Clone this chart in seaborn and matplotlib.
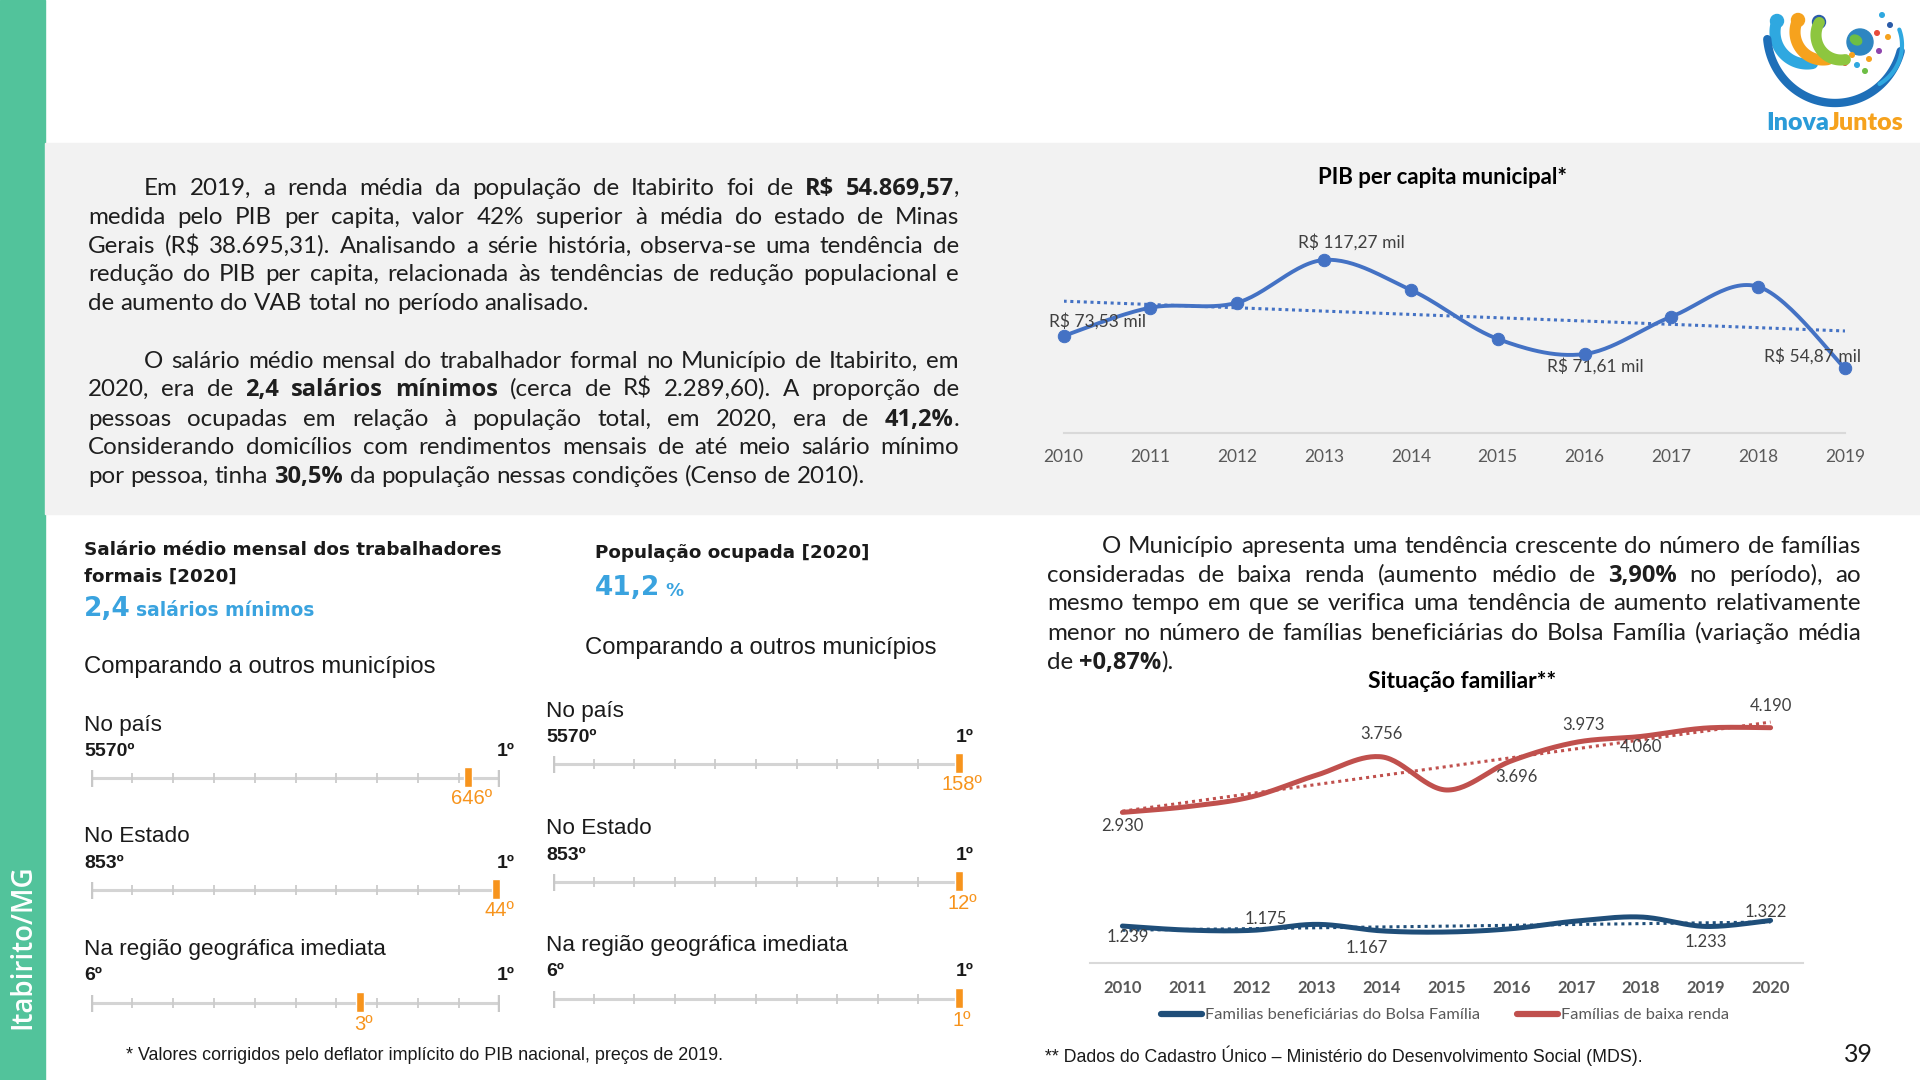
import numpy as np
import pandas as pd
import matplotlib
matplotlib.use("Agg")
import matplotlib.pyplot as plt
import seaborn as sns
from matplotlib import font_manager
from matplotlib.patches import Rectangle, Circle, Ellipse
from matplotlib.lines import Line2D

anos_pib = [2010, 2011, 2012, 2013, 2014, 2015, 2016, 2017, 2018, 2019]
pib_mil = [73.53, 89.8, 92.7, 117.27, 100.0, 71.8, 63.1, 84.6, 101.9, 54.87]
pib_rotulos = {2010: "R$ 73,53 mil", 2013: "R$ 117,27 mil", 2016: "R$ 71,61 mil", 2019: "R$ 54,87 mil"}

anos_fam = [2010, 2011, 2012, 2013, 2014, 2015, 2016, 2017, 2018, 2019, 2020]
baixa_renda = [2930, 3015, 3163, 3486, 3756, 3263, 3696, 3973, 4060, 4185, 4190]
bolsa_familia = [1239, 1179, 1175, 1264, 1167, 1150, 1199, 1313, 1373, 1233, 1322]
rot_baixa = [2010, 2014, 2016, 2017, 2018, 2020]
rot_bolsa = [2010, 2012, 2014, 2019, 2020]

niveis = ["No país", "No Estado", "Na região geográfica imediata"]
total_municipios = [5570, 853, 6]
rank_salario = [646, 44, 3]
escala_salario = [92.2, 99.0, 65.8]   # posição do marcador na régua (%)
rank_pop = [158, 12, 1]
escala_pop = [100, 100, 100]

W, H = 1920, 1080
AZUL = "#4472C4"
AZUL_ESC = "#1F4E79"
VERMELHO = "#C0504D"
LARANJA = "#F7941D"
AZUL_IBGE = "#3AA3DF"
VERDE = "#52C39B"
CINZA_TXT = "#595959"

sns.set_theme(style="white")
nomes = {f.name for f in font_manager.fontManager.ttflist}
NARROW = "Liberation Sans Narrow" if "Liberation Sans Narrow" in nomes else "Liberation Sans"
plt.rcParams["font.family"] = ["Lato", "DejaVu Sans"]

fig = plt.figure(figsize=(19.2, 10.8), dpi=100)
fig.patch.set_facecolor("white")
renderer = fig.canvas.get_renderer()


def add_ax(x0, y0, x1, y1):
    a = fig.add_axes([x0 / W, 1 - y1 / H, (x1 - x0) / W, (y1 - y0) / H])
    a.patch.set_alpha(0)
    return a


def txt(x, y, s, **kw):
    kw.setdefault("va", "center")
    return fig.text(x / W, 1 - y / H, s, **kw)


def linha(x0, x1, y, s, size=17.4, justify=True, color="#1E1E1E"):
    # texto justificado, *...* marca negrito
    palavras, bold = [], False
    for w in s.split(" "):
        pecas = []
        for i, p in enumerate(w.split("*")):
            if i > 0:
                bold = not bold
            if p:
                pecas.append((p, bold))
        palavras.append(pecas)
    arts, larg = [], []
    for pecas in palavras:
        lst, tot = [], 0
        for p, b in pecas:
            if b:
                t = fig.text(0, 1 - y / H, p, fontsize=size - 0.4, family="Open Sans", color=color,
                             fontweight="bold", va="baseline")
            else:
                t = fig.text(0, 1 - y / H, p, fontsize=size, family="Lato", color=color, va="baseline")
            wpx = t.get_window_extent(renderer).width
            lst.append((t, wpx))
            tot += wpx
        arts.append(lst)
        larg.append(tot)
    if justify and len(palavras) > 1:
        gap = (x1 - x0 - sum(larg)) / (len(palavras) - 1)
    else:
        gap = size * 100 / 72 * 0.26
    x = x0
    for lst in arts:
        for t, wpx in lst:
            t.set_x(x / W)
            x += wpx
        x += gap


def suaviza(x, y, n=30):
    P = np.column_stack([x, y]).astype(float)
    E = np.vstack([P[0], P, P[-1]])
    out = []
    for i in range(len(P) - 1):
        p0, p1, p2, p3 = E[i], E[i + 1], E[i + 2], E[i + 3]
        c1 = p1 + (p2 - p0) / 6
        c2 = p2 - (p3 - p1) / 6
        t = np.linspace(0, 1, n, endpoint=(i == len(P) - 2))[:, None]
        out.append((1 - t) ** 3 * p1 + 3 * (1 - t) ** 2 * t * c1 + 3 * (1 - t) * t ** 2 * c2 + t ** 3 * p2)
    S = np.vstack(out)
    return S[:, 0], S[:, 1]


# ---------------- fundo ----------------
fig.patches.append(Rectangle((0, 0), 45 / W, 1, transform=fig.transFigure, color=VERDE, zorder=-2))
fig.patches.append(Rectangle((45 / W, 1 - 514 / H), 1 - 45 / W, (514 - 143) / H,
                             transform=fig.transFigure, color="#F2F2F2", zorder=-2))
txt(23, 947, "Itabirito/MG", rotation=90, color="white", fontsize=20, family="Open Sans",
    fontweight="semibold", ha="center")

# ---------------- textos ----------------
p1 = ["Em 2019, a renda média da população de Itabirito foi de *R$ 54.869,57*,",
      "medida pelo PIB per capita, valor 42% superior à média do estado de Minas",
      "Gerais (R$ 38.695,31). Analisando a série história, observa-se uma tendência de",
      "redução do PIB per capita, relacionada às tendências de redução populacional e",
      "de aumento do VAB total no período analisado."]
p2 = ["O salário médio mensal do trabalhador formal no Município de Itabirito, em",
      "2020, era de *2,4 salários mínimos* (cerca de R$ 2.289,60). A proporção de",
      "pessoas ocupadas em relação à população total, em 2020, era de *41,2%*.",
      "Considerando domicílios com rendimentos mensais de até meio salário mínimo",
      "por pessoa, tinha *30,5%* da população nessas condições (Censo de 2010)."]
p3 = ["O Município apresenta uma tendência crescente do número de famílias",
      "consideradas de baixa renda (aumento médio de *3,90%* no período), ao",
      "mesmo tempo em que se verifica uma tendência de aumento relativamente",
      "menor no número de famílias beneficiárias do Bolsa Família (variação média",
      "de *+0,87%*)."]

for par, ys, x0, x1, ind in [(p1, [187, 216, 245, 273, 302], 88, 959, 144),
                             (p2, [360, 388, 418, 446, 475], 88, 959, 144),
                             (p3, [545, 574, 602, 632, 661], 1047, 1861, 1102)]:
    for i, (s, y) in enumerate(zip(par, ys)):
        linha(ind if i == 0 else x0, x1, y + 8, s, justify=(i < len(par) - 1))

# ---------------- PIB per capita ----------------
txt(1442, 178, "PIB per capita municipal*", fontsize=16, fontweight="bold", ha="center", color="black")
ax = add_ax(1063.6, 200, 1845, 432.7)
xs, ys = suaviza(anos_pib, pib_mil)
sns.lineplot(x=xs, y=ys, ax=ax, sort=False, estimator=None, color=AZUL, lw=2.8, clip_on=False)
sns.regplot(x=anos_pib, y=pib_mil, ax=ax, scatter=False, ci=None, truncate=True,
            line_kws=dict(ls=(0, (1, 1.2)), lw=2.2, color=AZUL))
sns.scatterplot(x=anos_pib, y=pib_mil, ax=ax, s=80, color=AZUL, edgecolor=AZUL, zorder=5, clip_on=False)
off_pib = {2010: (34, 15), 2013: (27, 18), 2016: (11, -12), 2019: (-33, 12)}
for ano, rot in pib_rotulos.items():
    v = pib_mil[anos_pib.index(ano)]
    ax.annotate(rot, (ano, v), xytext=off_pib[ano], textcoords="offset pixels",
                ha="center", va="center", fontsize=12.5, color="#404040")
ax.set_xlim(2010, 2019)
ax.set_ylim(17.8, 151.8)
ax.set_xticks(anos_pib)
ax.set_xticklabels([str(a) for a in anos_pib])
ax.tick_params(axis="x", length=0, pad=12, labelsize=12.5, labelcolor=CINZA_TXT)
ax.set_yticks([])
ax.set_xlabel("")
ax.set_ylabel("")
for s in ["top", "left", "right"]:
    ax.spines[s].set_visible(False)
ax.spines["bottom"].set_color("#D9D9D9")
ax.spines["bottom"].set_linewidth(1.5)

# ---------------- Situação familiar ----------------
txt(1462, 681, "Situação familiar**", fontsize=16.5, fontweight="bold", ha="center", color="black")
ax2 = add_ax(1090, 700, 1803, 963)
for serie, cor in [(bolsa_familia, AZUL_ESC), (baixa_renda, VERMELHO)]:
    xs, ys = suaviza(anos_fam, serie)
    sns.lineplot(x=xs, y=ys, ax=ax2, sort=False, estimator=None, color=cor, lw=3.6, clip_on=False)
    sns.regplot(x=anos_fam, y=serie, ax=ax2, scatter=False, ci=None, truncate=True,
                line_kws=dict(ls=(0, (1, 1.3)), lw=2.2, color=cor))
off_baixa = {2010: (0, -14), 2014: (0, 23), 2016: (5, -16), 2017: (7, 17), 2018: (0, -11), 2020: (0, 22)}
off_bolsa = {2010: (5, -11), 2012: (14, 11), 2014: (-15, -17), 2019: (0, -16), 2020: (-5, 8)}
for serie, rots, offs in [(baixa_renda, rot_baixa, off_baixa), (bolsa_familia, rot_bolsa, off_bolsa)]:
    for ano in rots:
        v = serie[anos_fam.index(ano)]
        ax2.annotate(f"{v:,}".replace(",", "."), (ano, v), xytext=offs[ano], textcoords="offset pixels",
                     ha="center", va="center", fontsize=12, color="#404040")
ax2.set_xlim(2009.5, 2020.5)
ax2.set_ylim(689, 4602)
ax2.set_xticks(anos_fam)
ax2.set_xticklabels([str(a) for a in anos_fam], fontweight="bold")
ax2.tick_params(axis="x", length=0, pad=12, labelsize=12, labelcolor=CINZA_TXT)
ax2.set_yticks([])
ax2.set_xlabel("")
ax2.set_ylabel("")
for s in ["top", "left", "right"]:
    ax2.spines[s].set_visible(False)
ax2.spines["bottom"].set_color("#D9D9D9")
ax2.spines["bottom"].set_linewidth(1.5)
hand = [Line2D([], [], color=AZUL_ESC, lw=4.5), Line2D([], [], color=VERMELHO, lw=4.5)]
ax2.legend(hand, ["Familias beneficiárias do Bolsa Família", "Famílias de baixa renda"],
           loc="center", bbox_to_anchor=(1445 / W, 1 - 1015 / H), bbox_transform=fig.transFigure,
           ncol=2, frameon=False, fontsize=11.8, labelcolor=CINZA_TXT, handlelength=2.5,
           handletextpad=0.2, columnspacing=2.2)

# ---------------- réguas IBGE ----------------
def regua(x0, x1, yt, nivel, total, rank, pos):
    txt(x0 - 7, yt - 53, nivel, fontsize=16.2, family="Liberation Sans", color="#1A1A1A")
    txt(x0 - 7, yt - 27, f"{total}º", fontsize=14, family=NARROW, fontweight="bold", color="#1A1A1A")
    txt(x1 + 6, yt - 27, "1º", fontsize=14, family=NARROW, fontweight="bold", color="#1A1A1A", ha="center")
    a = add_ax(x0, yt - 15, x1, yt + 15)
    a.set_xlim(0, 100)
    a.set_ylim(15, -15)
    a.axis("off")
    a.hlines(0, 0, 100, color="#D4D4D4", lw=2.2)
    a.vlines(np.arange(10, 100, 10), -5, 5, color="#CCCCCC", lw=1.3)
    a.vlines([0, 100], -8.5, 8.5, color="#C8C8C8", lw=3.2)
    a.bar([pos], [20], bottom=-11, width=8.5 / (x1 - x0) * 100, color=LARANJA, clip_on=False, zorder=3)
    a.text(pos + 0.8, 21, f"{rank}º", ha="center", va="center", fontsize=14.5, family=NARROW,
           color=LARANJA, clip_on=False)


txt(84, 550, "Salário médio mensal dos trabalhadores", fontsize=13.2, fontweight="bold",
    family="DejaVu Sans", color="#1A1A1A")
txt(84, 577, "formais [2020]", fontsize=13.2, fontweight="bold", family="DejaVu Sans", color="#1A1A1A")
txt(84, 609, "2,4", fontsize=19, fontweight="bold", family="DejaVu Sans", color=AZUL_IBGE)
txt(136, 611, "salários mínimos", fontsize=13.5, fontweight="bold", family="DejaVu Sans", color=AZUL_IBGE)
txt(84, 667, "Comparando a outros municípios", fontsize=17.2, family="Liberation Sans", color="#1A1A1A")

txt(595, 553, "População ocupada [2020]", fontsize=13.2, fontweight="bold", family="DejaVu Sans", color="#1A1A1A")
txt(595, 588, "41,2", fontsize=19, fontweight="bold", family="DejaVu Sans", color=AZUL_IBGE)
txt(665, 591, "%", fontsize=13, fontweight="bold", family="DejaVu Sans", color=AZUL_IBGE)
txt(585, 648, "Comparando a outros municípios", fontsize=17.2, family="Liberation Sans", color="#1A1A1A")

for i, yt in enumerate([778, 890, 1003]):
    regua(91, 500, yt, niveis[i], total_municipios[i], rank_salario[i], escala_salario[i])
for i, yt in enumerate([764, 882, 999]):
    regua(553, 959, yt, niveis[i], total_municipios[i], rank_pop[i], escala_pop[i])

# ---------------- rodapé ----------------
txt(126, 1056, "* Valores corrigidos pelo deflator implícito do PIB nacional, preços de 2019.",
    fontsize=12.9, family="Liberation Sans", color="#1A1A1A")
txt(1045, 1056, "** Dados do Cadastro Único – Ministério do Desenvolvimento Social (MDS).",
    fontsize=12.8, family="Liberation Sans", color="#1A1A1A")
txt(1858, 1055, "39", fontsize=18, family="Lato", color="#1A1A1A", ha="center")

# ---------------- logo ----------------
lg = add_ax(1757, 5, 1910, 140)
lg.set_xlim(0, 153)
lg.set_ylim(135, 0)
lg.axis("off")
for cx, cy, r, t0, t1, cor in [(50, 27, 32, 80, 200, "#2FA8E0"), (66, 27, 28, 80, 205, "#F6A21D"),
                               (84, 30, 25, 80, 210, "#8DC63F")]:
    t = np.radians(np.linspace(t0, t1, 60))
    lg.plot(cx + r * np.cos(t), cy + r * np.sin(t), color=cor, lw=8, solid_capstyle="round")
for cx, cy, cor in [(20, 16, "#2FA8E0"), (41, 15, "#F6A21D"), (62, 17, "#2B5BA8")]:
    lg.add_patch(Circle((cx, cy), 6.5, color=cor))
t = np.radians(np.linspace(15, 175, 80))
lg.plot(78 + 68 * np.cos(t), 28 + 70 * np.sin(t), color="#1E6FB8", lw=6, solid_capstyle="round")
t = np.radians(np.linspace(-20, 60, 40))
lg.plot(100 + 45 * np.cos(t), 40 + 45 * np.sin(t), color="#2FA8E0", lw=3, solid_capstyle="round")
lg.add_patch(Circle((103, 37), 13, color="#2E86C1"))
lg.add_patch(Ellipse((99, 35), 12, 9, angle=30, color="#6DBE45"))
for cx, cy, cor in [(125, 10, "#2FA8E0"), (133, 20, "#2B5BA8"), (120, 28, "#E74C3C"), (131, 32, "#F6A21D"),
                    (88, 58, "#E74C3C"), (100, 60, "#2FA8E0"), (112, 54, "#F6A21D"), (122, 46, "#8E44AD"),
                    (108, 66, "#6DBE45"), (95, 50, "#F6A21D")]:
    lg.add_patch(Circle((cx, cy), 2.3, color=cor))
lg.text(72, 118, "Inova", ha="right", va="center", fontsize=18, fontweight="heavy", color="#2A9BD8")
lg.text(72, 118, "Juntos", ha="left", va="center", fontsize=18, fontweight="heavy", color="#F6A21D")

fig.savefig("out.png", dpi=100, facecolor="white")
